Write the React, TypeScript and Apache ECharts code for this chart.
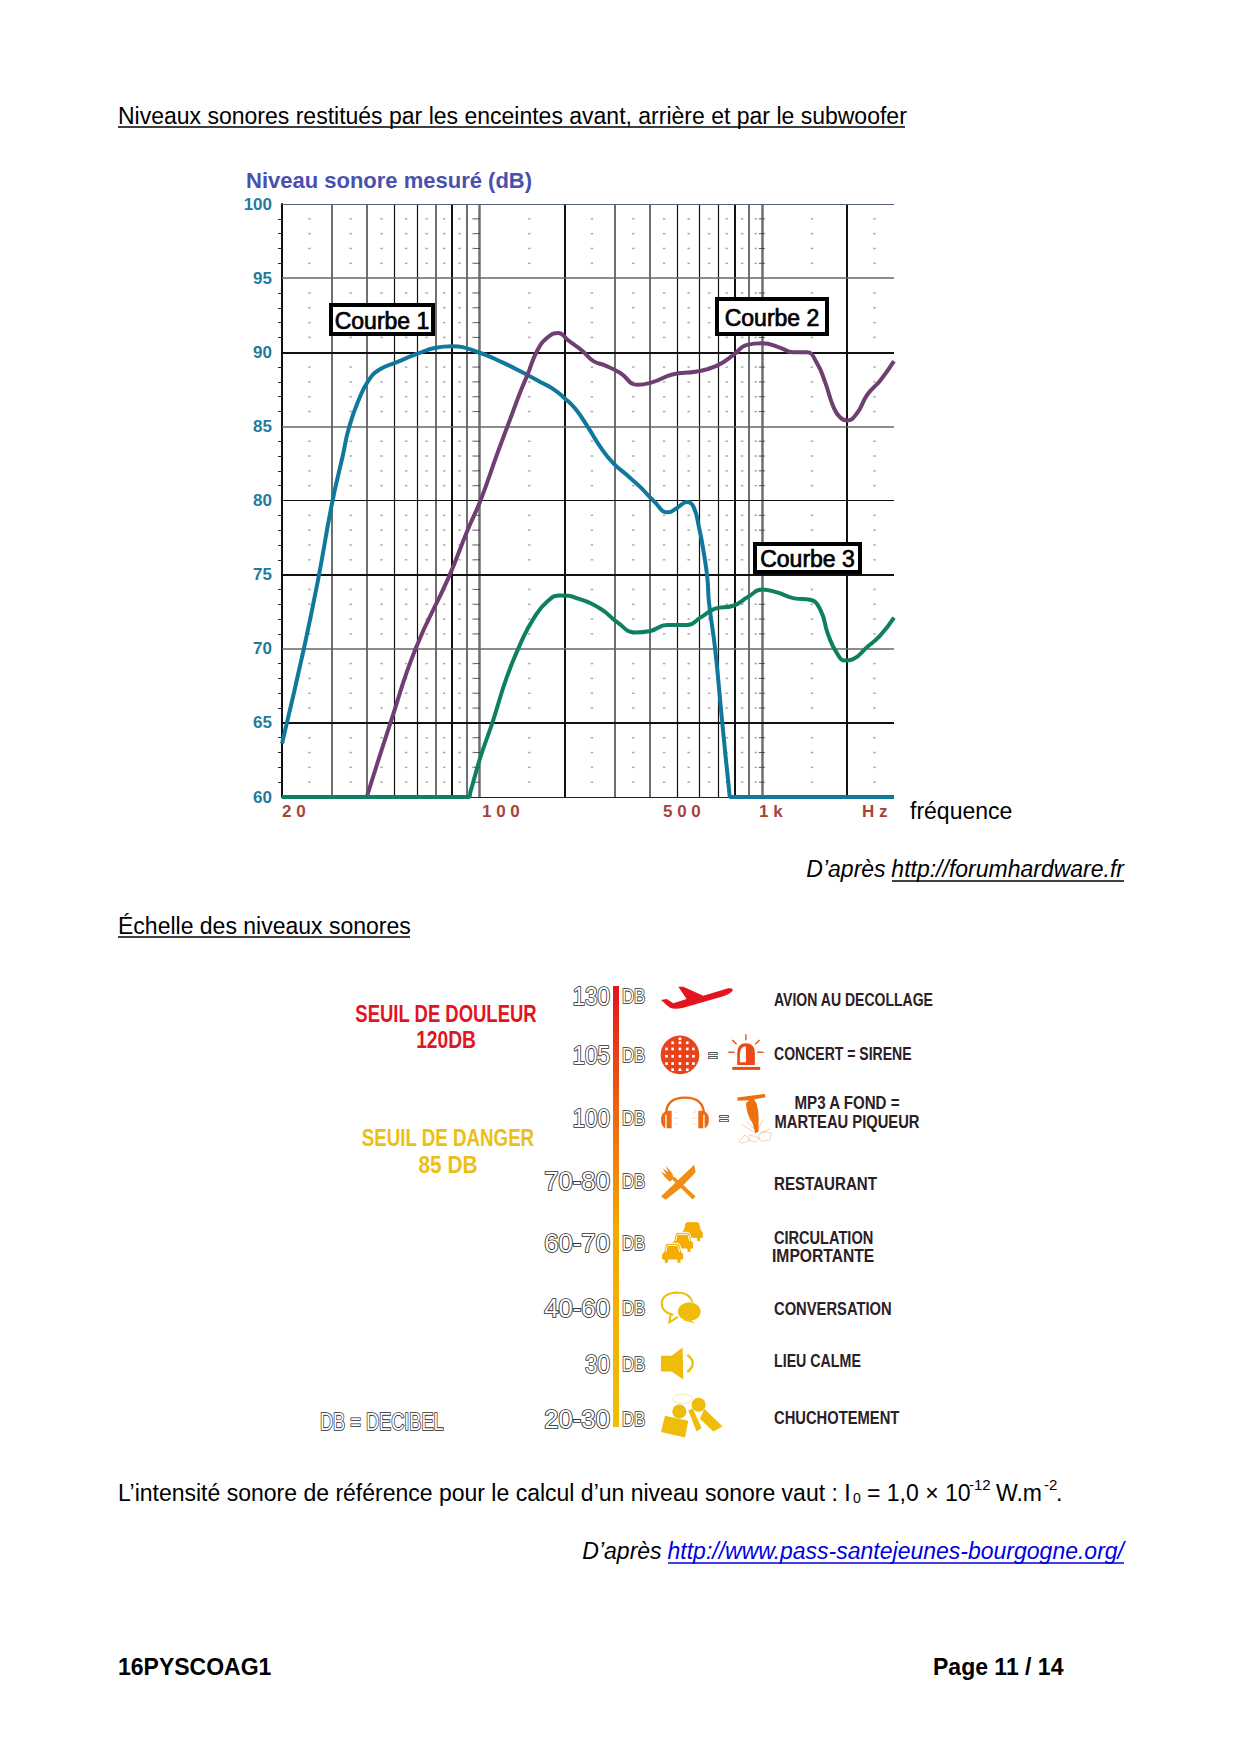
import React, { useEffect, useRef } from "react";
import * as echarts from "echarts";

// ---------- chart data (frequency in Hz, level in dB) ----------
const curve1: [number, number][] = [[20,63.6],[23.9,70],[26.8,74.6],[30.2,80],[32.8,83],[34.5,84.9],[37.4,86.8],[40.5,88.1],[44,88.8],[50.5,89.3],[60.4,89.9],[69.9,90.3],[80,90.4],[99,90],[121,89.3],[140,88.7],[164,88],[183,87.5],[200,86.9],[218,86.2],[241,85],[268,83.6],[298,82.5],[333,81.7],[371,80.9],[412,80],[465,79.2],[500,79.5],[543,79.9],[571,79.6],[598,78.2],[619,76.7],[640,74.8],[649,73.1],[682,70],[723,65],[765,60.4],[771,60],[790,60],[1000,60],[2930,60]];
const curve2: [number, number][] = [[39.9,60],[48.4,65],[59.4,70],[77.7,74.8],[90.7,78],[100.8,80],[115.8,83.2],[129,85.6],[140,87.4],[148,88.5],[160,90.1],[174,91],[190,91.3],[206,90.8],[231,90.1],[253,89.4],[279,89.1],[315,88.6],[362,87.8],[412,88],[481,88.5],[587,88.7],[693,89.1],[790,89.8],[885,90.5],[1000,90.6],[1160,90.3],[1285,90],[1440,90],[1560,89.3],[1670,88],[1790,86.3],[1890,85.6],[2000,85.4],[2170,85.9],[2350,87.1],[2620,88.1],[2930,89.4]];
const curve3: [number, number][] = [[20,60],[85,60],[91.4,60],[93,60.4],[100.8,62.7],[111,65],[125,68.1],[140,70.4],[155,72],[174,73.2],[193,73.6],[222,73.4],[268,72.7],[307,71.8],[355,71.1],[402,71.2],[461,71.6],[544,71.6],[605,72.1],[682,72.7],[790,72.9],[893,73.5],[1000,74],[1130,73.8],[1300,73.4],[1480,73.3],[1610,72.6],[1710,71],[1840,69.7],[1970,69.2],[2100,69.3],[2350,70.1],[2620,70.9],[2930,72.1]];

const yTicks = [60, 65, 70, 75, 80, 85, 90, 95, 100];
const blackLevels = [65, 75, 80, 90];
const grayLevels = [70, 85, 95];
const blackFreqs = [50, 60, 80, 200, 500, 600, 700, 800, 2000];
const grayFreqs = [30, 40, 70, 90, 100, 300, 400, 900, 1000];
const dotFreqs = [25, 35, 45, 55, 65, 75, 85, 95, 150, 250, 350, 450, 550, 650, 750, 850, 950, 1500, 2500];
const dashFreqs = [98, 998];
const dotLevels = [61,62,63,64,66,67,68,69,71,72,73,74,76,77,78,79,81,82,83,84,86,87,88,89,91,92,93,94,96,97,98,99];
const xTickLabels = ["2 0", "1 0 0", "5 0 0", "1 k", "H z"];
const xTickLabelX = [282, 482, 663, 759, 862];

// ---------- scale data ----------
const scaleValues = ["130", "105", "100", "70-80", "60-70", "40-60", "30", "20-30"];
const scaleY = [996, 1055, 1118, 1181, 1243, 1308, 1364, 1419];

const cross = (fs: number[], ls: number[]) => fs.flatMap((f) => ls.map((l) => [f, l]));

const BODY = '"Liberation Sans", Arial, sans-serif';
const NARROW = '"Liberation Sans", sans-serif';

const ICONS: Record<string, string> = {
  plane: "M33 75 L50 72 L70 85 L110 72 L85 35 L100 35 L160 62 L235 40 Q250 38 248 47 Q240 58 215 65 L100 98 Q75 105 60 98 L50 90 Z",
  dome: "M262 270 L262 235 Q262 205 288 205 Q315 205 315 235 L315 270 Z",
  domeIn: "M270 262 L270 238 Q270 216 288 214 L288 262 Z",
  band: "M48 420 Q48 368 105 368 Q162 368 162 420",
  cupL: "M46 410 L46 460 Q33 455 33 435 Q33 415 46 410 Z M50 408 L65 408 L65 460 L50 460 Z",
  cupR: "M164 410 L164 460 Q177 455 177 435 Q177 415 164 410 Z M145 408 L160 408 L160 460 L145 460 Z",
  ears: "M72 408 L82 415 M70 430 L85 430 M72 450 L82 445 M140 408 L128 415 M142 430 L125 430 M140 450 L128 445",
  hammer: "M262 368 L345 357 L347 367 L312 374 L320 385 Q328 415 326 440 L326 470 L316 476 L308 445 Q290 420 288 385 L298 376 L263 378 Z",
  debris: "M268 500 L285 480 L300 497 L275 505 Z M300 480 L330 490 L318 502 L296 495 Z M335 470 L365 475 L360 495 L335 500 L325 485 Z M275 448 L312 472 M290 440 L315 465 M338 435 L325 465 M360 462 L332 476",
  fork: "M33 590 L50 600 L38 580 L55 592 L47 572 L62 590 Q74 603 66 616 L58 620 Q45 610 33 590 Z M65 612 L72 605 L137 665 L128 674 Z",
  knife: "M133 570 L137 592 L92 640 L47 675 L33 665 L80 620 Z",
  car: "M8 26 L13 6 Q15 0 22 0 L48 0 Q55 0 57 6 L62 26 Q68 30 68 36 L68 50 L60 50 L60 60 L48 60 L48 50 L22 50 L22 60 L10 60 L10 50 L2 50 L2 36 Q2 30 8 26 Z",
  carw: "M14 26 L18 10 Q19 6 24 6 L46 6 Q51 6 52 10 L56 26",
  bubbleO: "M70 300 Q35 292 35 265 Q38 235 82 233 Q118 233 128 262 M62 298 L58 322 L84 306",
  bubbleF: "M84 290 A34 28 0 1 1 152 290 A34 28 0 1 1 84 290 Z M112 310 L137 326 L100 316 Z",
  speaker: "M33 423 L65 423 L98 398 L100 494 L65 470 L33 470 Z",
  wave: "M112 420 Q145 445 112 472",
  man1: "M45 603 L115 618 L105 668 L33 652 Z",
  man2: "M163 582 L218 635 L190 650 L150 612 Z M115 587 L128 580 L155 640 L140 650 Z",
};
Object.keys(ICONS).forEach((k) => {
  echarts.graphic.registerShape("ico_" + k, echarts.graphic.extendPath(ICONS[k], {}));
});

function T(text: string, x: number, y: number, font: string, fill: string, extra: any = {}) {
  const { align = "left", scaleX, stroke, lineWidth } = extra;
  return {
    type: "text",
    x,
    y,
    scaleX: scaleX ?? 1,
    z: 20,
    style: { text, font, fill, align, verticalAlign: "middle", stroke, lineWidth },
  };
}
const L = (x1: number, x2: number, y: number, stroke = "#000") => ({
  type: "line",
  z: 20,
  shape: { x1, y1: y, x2, y2: y },
  style: { stroke, lineWidth: 1.5 },
});
const BOX = (text: string, x1: number, y1: number, x2: number, y2: number) => ({
  type: "group",
  z: 30,
  children: [
    { type: "rect", z: 30, shape: { x: x1 + 2, y: y1 + 2, width: x2 - x1 - 4, height: y2 - y1 - 4 }, style: { fill: "#fff", stroke: "#000", lineWidth: 4 } },
    { type: "text", z: 31, x: (x1 + x2) / 2, y: (y1 + y2) / 2 + 1, style: { text, font: `23px ${BODY}`, fill: "#000", stroke: "#000", lineWidth: 0.7, align: "center", verticalAlign: "middle" } },
  ],
});
const OUT = (text: string, x: number, y: number, size: number, align = "left", scaleX = 1) =>
  T(text, x, y, `${size}px ${NARROW}`, "#fff", { align, scaleX, stroke: "#2a2a2a", lineWidth: 1.7 });
const HAND = (text: string, x: number, y: number, fill: string, size: number, align = "left", scaleX = 1) =>
  T(text, x, y, `bold ${size}px ${NARROW}`, fill, { align, scaleX });

const ic = (k: string, fill: string, extra: any = {}) => ({ type: "ico_" + k, style: { fill, ...extra } });
const strokeIc = (k: string, stroke: string, w: number, extra: any = {}) => ({ type: "ico_" + k, style: { fill: "none", stroke, lineWidth: w, ...extra } });

function globeDots() {
  const out: any[] = [];
  for (let row = -3; row <= 3; row++) {
    for (let col = -3; col <= 3; col++) {
      const dx = Math.sin((col / 3.6) * 1.45) * 56;
      const dy = Math.sin((row / 3.6) * 1.45) * 56 + 4;
      if (dx * dx + dy * dy > 50 * 50) continue;
      out.push({ type: "rect", shape: { x: 90 + dx - 4, y: 240 + dy - 4, width: 8, height: 8 }, style: { fill: "#fff" } });
    }
  }
  return out;
}

function sirenRays(c: string) {
  return [[288, 178, 288, 196], [247, 195, 260, 208], [329, 195, 316, 208], [235, 232, 254, 232], [322, 232, 341, 232]].map((r) => ({
    type: "line",
    shape: { x1: r[0], y1: r[1], x2: r[2], y2: r[3] },
    style: { stroke: c, lineWidth: 4 },
  }));
}

function iconsTop() {
  return {
    type: "group",
    x: 650,
    y: 975,
    scaleX: 1 / 3,
    scaleY: 1 / 3,
    z: 20,
    children: [
      ic("plane", "#e3141f"),
      { type: "circle", shape: { cx: 90, cy: 240, r: 58 }, style: { fill: "#e8431b" } },
      ...globeDots(),
      ic("dome", "#ea4a17"),
      ic("domeIn", "#fff"),
      { type: "rect", shape: { x: 247, y: 276, width: 84, height: 9 }, style: { fill: "#ea4a17" } },
      ...sirenRays("#ea4a17"),
      strokeIc("band", "#ee6a10", 7),
      ic("cupL", "#ee6a10"),
      ic("cupR", "#ee6a10"),
      strokeIc("ears", "#f6cdb0", 2),
      ic("hammer", "#ee6f0f"),
      strokeIc("debris", "#f3b592", 2),
      ic("knife", "#f28c12"),
      ic("fork", "#f28c12"),
    ],
  };
}

function iconsBottom() {
  const car = (x: number, y: number, s: number) => ({
    type: "ico_car",
    x,
    y,
    scaleX: s,
    scaleY: s,
    style: { fill: "#f4ae03", stroke: "#fff", lineWidth: 3 },
  });
  const win = (x: number, y: number) => ({ type: "ico_carw", x, y, style: { fill: "none", stroke: "#fff", lineWidth: 3 } });
  const c = "#edbd0a";
  return {
    type: "group",
    x: 650,
    y: 1215,
    scaleX: 1 / 3,
    scaleY: 1 / 3,
    z: 20,
    children: [
      car(92, 20, 1),
      car(63, 52, 1),
      win(63, 52),
      car(33, 85, 1),
      win(33, 85),
      strokeIc("bubbleO", c, 6),
      ic("bubbleF", c),
      ic("speaker", c),
      strokeIc("wave", c, 7),
      { type: "ellipse", shape: { cx: 98, cy: 552, rx: 29, ry: 14 }, style: { fill: "none", stroke: "#f2d878", lineWidth: 2 } },
      { type: "circle", shape: { cx: 88, cy: 590, r: 21 }, style: { fill: c } },
      { type: "circle", shape: { cx: 146, cy: 570, r: 21 }, style: { fill: c } },
      ic("man1", c),
      ic("man2", c),
    ],
  };
}

export default function App() {
  const ref = useRef<HTMLDivElement>(null);
  useEffect(() => {
    const chart = echarts.init(ref.current!, undefined, { renderer: "svg", width: 1240, height: 1754 });
    const vLine = (f: number, color: string, width: number) => ({ xAxis: f, lineStyle: { color, width, type: "solid" } });
    const hLine = (l: number, color: string, width: number) => ({ yAxis: l, lineStyle: { color, width, type: "solid" } });
    const dark = "#2a2025";
    const curve = (name: string, data: [number, number][], color: string, z: number) => ({
      type: "line", name, data, smooth: 0.5, smoothConstraint: false, showSymbol: false, clip: false, z,
      lineStyle: { color, width: 4 },
    });
    chart.setOption({
      animation: false,
      backgroundColor: "#fff",
      title: {
        text: "Niveau sonore mesuré (dB)",
        left: 241,
        top: 164,
        textStyle: { color: "#4a50ad", fontFamily: "Liberation Sans", fontWeight: "bold", fontSize: 22 },
      },
      grid: { left: 282, top: 204, right: 346, bottom: 957 },
      xAxis: {
        type: "log",
        logBase: 10,
        min: 20,
        max: 2930,
        axisLine: { show: false },
        axisTick: { show: false },
        splitLine: { show: false },
        minorSplitLine: { show: false },
        axisLabel: { show: false },
      },
      yAxis: {
        type: "value",
        min: 60,
        max: 100,
        interval: 5,
        axisLine: { show: true, lineStyle: { color: "#111", width: 2 } },
        axisTick: { show: false },
        minorTick: { show: true, splitNumber: 5, length: 4, lineStyle: { color: "#222", width: 1 } },
        splitLine: { show: false },
        axisLabel: {
          margin: 10,
          color: "#1f7c9e",
          fontFamily: "Liberation Sans",
          fontWeight: "bold",
          fontSize: 17,
          customValues: yTicks,
        },
      },
      series: [
        {
          type: "scatter",
          name: "grid",
          symbol: "rect",
          symbolSize: [2.5, 1.5],
          silent: true,
          z: 1,
          itemStyle: { color: "#888", opacity: 0.7 },
          data: cross(dotFreqs, dotLevels),
          markLine: {
            silent: true,
            symbol: "none",
            label: { show: false },
            z: 1,
            data: [
              ...grayFreqs.map((f) => vLine(f, "#6f6f6f", f === 100 || f === 1000 ? 2.5 : 2)),
              ...blackFreqs.map((f) => vLine(f, "#111", f === 80 || f === 200 || f === 800 || f === 2000 ? 2 : 1.2)),
              ...grayLevels.map((l) => hLine(l, "#666", 1.6)),
              ...blackLevels.map((l) => hLine(l, "#111", l === 80 ? 1.2 : 1.8)),
              hLine(60, "#222", 1.2),
              hLine(100, "#55607f", 1.2),
            ],
          },
        },
        {
          type: "scatter",
          name: "dash",
          symbol: "rect",
          symbolSize: [6, 1],
          silent: true,
          z: 2,
          itemStyle: { color: "#333" },
          data: cross(dashFreqs, dotLevels),
        },
        curve("Courbe 1", curve1, "#0f789c", 5),
        curve("Courbe 2", curve2, "#6f3f74", 6),
        curve("Courbe 3", curve3, "#0f7f62", 7),
      ],
      graphic: [
        T("Niveaux sonores restitués par les enceintes avant, arrière et par le subwoofer", 118, 116, `23px ${BODY}`, "#000"),
        L(118, 905, 127),
        ...xTickLabels.map((t, i) => T(t, xTickLabelX[i], 811, `bold 17px ${BODY}`, "#a8433c")),
        T("fréquence", 910, 811, `23px ${BODY}`, "#000"),
        BOX("Courbe 1", 329, 303, 435, 336),
        BOX("Courbe 2", 715, 297, 829, 336),
        BOX("Courbe 3", 753, 542, 862, 574),
        T("D’après ", 892, 869, `italic 23px ${BODY}`, "#000", { align: "right" }),
        T("http://forumhardware.fr", 1124, 869, `italic 23px ${BODY}`, "#000", { align: "right" }),
        L(892, 1124, 881),
        T("Échelle des niveaux sonores", 118, 926, `23px ${BODY}`, "#000"),
        L(118, 410, 937),

        { type: "rect", z: 20, shape: { x: 613, y: 986, width: 6, height: 441 },
          style: { fill: new echarts.graphic.LinearGradient(0, 0, 0, 1, [
            { offset: 0, color: "#e2141e" },
            { offset: 0.3, color: "#ee6a10" },
            { offset: 0.55, color: "#f5a800" },
            { offset: 1, color: "#efbd0a" },
          ]) } },
        ...scaleValues.map((v, i) => OUT(v, 610, scaleY[i], 25, "right", v.length < 4 ? 0.9 : 1.03)),
        ...scaleY.map((y) => OUT("DB", 622, y, 21, "left", 0.8)),
        HAND("SEUIL DE DOULEUR", 446, 1014, "#e2141e", 24, "center", 0.77),
        HAND("120DB", 446, 1040, "#e2141e", 24, "center", 0.8),
        HAND("SEUIL DE DANGER", 448, 1138, "#edbe14", 24, "center", 0.78),
        HAND("85 DB", 448, 1165, "#edbe14", 24, "center", 0.87),
        OUT("DB = DECIBEL", 320, 1422, 23, "left", 0.79),
        HAND("AVION AU DECOLLAGE", 774, 999, dark, 18, "left", 0.78),
        HAND("CONCERT = SIRENE", 774, 1053, dark, 18, "left", 0.78),
        HAND("MP3 A FOND =", 847, 1103, dark, 18, "center", 0.84),
        HAND("MARTEAU PIQUEUR", 847, 1121, dark, 18, "center", 0.82),
        HAND("RESTAURANT", 774, 1184, dark, 18, "left", 0.84),
        HAND("CIRCULATION", 774, 1237, dark, 18, "left", 0.81),
        HAND("IMPORTANTE", 772, 1256, dark, 18, "left", 0.87),
        HAND("CONVERSATION", 774, 1308, dark, 18, "left", 0.82),
        HAND("LIEU CALME", 774, 1360, dark, 18, "left", 0.79),
        HAND("CHUCHOTEMENT", 774, 1417, dark, 18, "left", 0.82),
        OUT("=", 713, 1055, 16, "center"),
        OUT("=", 724, 1118, 16, "center"),
        iconsTop(),
        iconsBottom(),

        T("L’intensité sonore de référence pour le calcul d’un niveau sonore vaut : I", 118, 1493, `23px ${BODY}`, "#000"),
        T("0", 853, 1498, `14px ${BODY}`, "#000"),
        T("= 1,0 × 10", 867, 1493, `23px ${BODY}`, "#000"),
        T("-12", 969, 1484, `15px ${BODY}`, "#000"),
        T("W.m", 996, 1493, `23px ${BODY}`, "#000"),
        T("-2", 1044, 1484, `15px ${BODY}`, "#000"),
        T(".", 1056, 1493, `23px ${BODY}`, "#000"),
        T("D’après ", 668, 1551, `italic 23px ${BODY}`, "#000", { align: "right" }),
        T("http://www.pass-santejeunes-bourgogne.org/", 1124, 1551, `italic 23px ${BODY}`, "#0000e0", { align: "right" }),
        L(668, 1124, 1563, "#0000e0"),
        T("16PYSCOAG1", 118, 1667, `bold 23px ${BODY}`, "#000"),
        T("Page 11 / 14", 933, 1667, `bold 23px ${BODY}`, "#000"),
      ],
    });
    return () => chart.dispose();
  }, []);
  return <div ref={ref} style={{ position: "absolute", left: 0, top: 0, width: 1240, height: 1754 }} />;
}
